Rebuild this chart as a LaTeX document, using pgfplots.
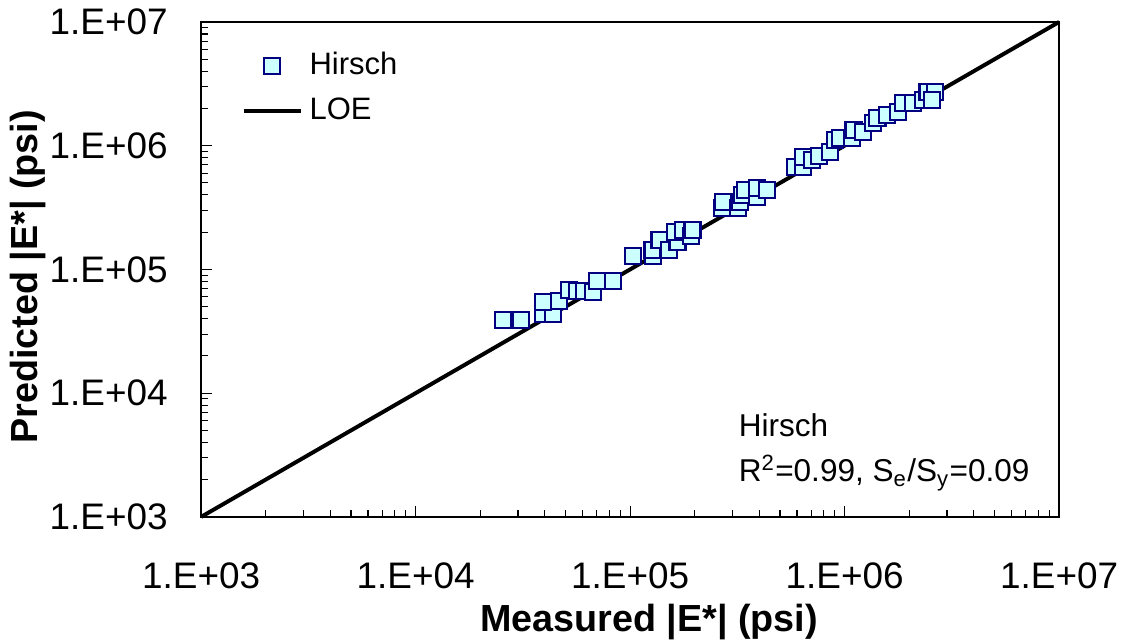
\documentclass[border=0pt]{standalone}
\usepackage{pgfplots}
\pgfplotsset{compat=1.18}
\usepackage{fontspec}
\setmainfont{Liberation Sans}
\definecolor{mkfill}{HTML}{CCFFFF}
\definecolor{mkedge}{HTML}{000080}
\pgfplotsset{
  loelegend/.style={legend image code/.code={\draw[##1] (0cm,0cm) -- (0.71cm,0cm);}},
  marklegend/.style={legend image code/.code={\draw[##1] plot coordinates {(0.355cm,0cm)};}},
}
\begin{document}
\begin{tikzpicture}
\begin{axis}[
  scale only axis,
  width=304.6pt, height=175.7pt,
  xmode=log, ymode=log,
  xmin=1e3, xmax=1e7, ymin=1e3, ymax=1e7,
  xtick={1e3,1e4,1e5,1e6,1e7},
  ytick={1e3,1e4,1e5,1e6,1e7},
  xticklabels={1.E+03,1.E+04,1.E+05,1.E+06,1.E+07},
  yticklabels={1.E+03,1.E+04,1.E+05,1.E+06,1.E+07},
  tick align=inside,
  xtick pos=bottom, ytick pos=left,
  major tick length=3.9pt, minor tick length=2.5pt,
  every tick/.style={black, line width=0.4pt},
  axis line style={black, line width=0.7pt},
  xticklabel style={font=\fontsize{13.1}{15}\selectfont, inner sep=0pt, anchor=north, yshift=-16pt},
  yticklabel style={font=\fontsize{13.1}{15}\selectfont, inner sep=0pt, anchor=east, xshift=-11.7pt},
  xlabel={\bfseries Measured |E*| (psi)},
  ylabel={\bfseries Predicted |E*| (psi)},
  xlabel style={font=\fontsize{13.4}{16}\selectfont, at={(axis description cs:0.522,0)}, anchor=base, yshift=-40.8pt, inner sep=0pt},
  ylabel style={font=\fontsize{13.4}{16}\selectfont, at={(axis description cs:-0.2016,0.485)}, anchor=center, inner sep=0pt},
  reverse legend,
  legend style={draw=none, fill=none, at={(axis description cs:0,1)}, anchor=north west,
    xshift=14.2pt, yshift=-10.5pt, inner sep=0pt, row sep=6pt, column sep=2.5pt,
    font=\fontsize{11}{13}\selectfont,
    nodes={inner sep=0pt, text height=8pt, text depth=2pt}},
  legend cell align=left,
  clip=false,
]
\addplot[black, line width=1.4pt, loelegend]
  coordinates {(1e3,1e3) (1e7,1e7)};
\addlegendentry{LOE}
\addplot[only marks, mark=square*, mark size=2.85pt,
  mark options={fill=mkfill, draw=mkedge, line width=0.85pt}, marklegend]
  table[row sep=\\] {
x y\\
2.56e4 3.91e4\\
3.10e4 3.91e4\\
3.93e4 4.37e4\\
4.38e4 4.37e4\\
3.93e4 5.46e4\\
4.67e4 5.56e4\\
5.20e4 6.83e4\\
5.66e4 6.70e4\\
6.11e4 6.70e4\\
6.73e4 6.58e4\\
7.02e4 8.07e4\\
8.34e4 8.07e4\\
1.03e5 1.285e5\\
1.28e5 1.285e5\\
1.27e5 1.44e5\\
1.37e5 1.73e5\\
1.52e5 1.44e5\\
1.66e5 1.67e5\\
1.62e5 2.01e5\\
1.77e5 2.09e5\\
1.92e5 1.87e5\\
1.95e5 2.09e5\\
2.69e5 3.14e5\\
2.71e5 3.51e5\\
3.19e5 3.14e5\\
3.26e5 3.51e5\\
3.33e5 4.00e5\\
3.44e5 4.39e5\\
3.91e5 3.85e5\\
3.91e5 4.56e5\\
4.35e5 4.39e5\\
5.88e5 6.73e5\\
6.41e5 6.73e5\\
6.41e5 8.11e5\\
7.05e5 7.67e5\\
7.60e5 8.26e5\\
8.56e5 8.90e5\\
9.03e5 1.11e6\\
9.53e5 1.156e6\\
1.08e6 1.156e6\\
1.10e6 1.34e6\\
1.22e6 1.29e6\\
1.36e6 1.53e6\\
1.42e6 1.68e6\\
1.58e6 1.77e6\\
1.77e6 1.87e6\\
1.87e6 2.22e6\\
2.08e6 2.22e6\\
2.32e6 2.34e6\\
2.43e6 2.72e6\\
2.64e6 2.72e6\\
2.56e6 2.34e6\\
};
\addlegendentry{Hirsch}
\node[anchor=base west, inner sep=0pt, font=\fontsize{11.2}{13}\selectfont] at (axis description cs:0.626,0.1616) {Hirsch};
\node[anchor=base west, inner sep=0pt, font=\fontsize{11.2}{13}\selectfont] at (axis description cs:0.626,0.0707) {R\textsuperscript{2}=0.99, S\textsubscript{e}/S\textsubscript{y}=0.09};
\end{axis}
\pgfresetboundingbox
\path ([shift={(-71.4pt,-44.7pt)}]current axis.south west) rectangle ([shift={(24.1pt,7.8pt)}]current axis.north east);
\end{tikzpicture}
\end{document}
